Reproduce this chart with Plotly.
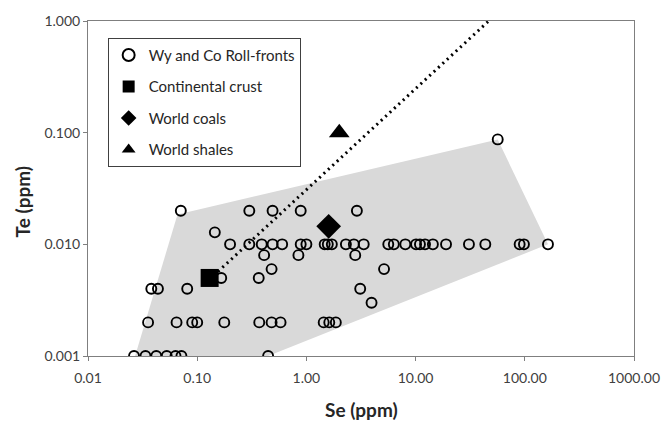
import plotly.graph_objects as go

# Wy and Co roll-front samples (Se ppm, Te ppm)
se_wyco = [0.0264, 0.0336, 0.0422, 0.0526, 0.0633, 0.0717, 0.446,
           0.0355, 0.0647, 0.090, 0.100, 0.177, 0.37, 0.48, 0.58, 1.44, 1.62, 1.86,
           3.95,
           0.038, 0.0437, 0.081, 3.11,
           0.166, 0.366,
           0.48, 5.14,
           0.41, 0.845, 2.8,
           0.20, 0.30, 0.39, 0.49, 0.60, 0.887, 1.0, 1.47, 1.57, 1.71, 2.30, 2.72,
           3.35, 5.62, 6.32, 8.05, 10.1, 10.96, 12.2, 14.4, 19.0, 30.8, 43.5, 89.7, 98.2, 163,
           0.145,
           0.0708, 0.30, 0.49, 0.887, 2.9,
           56.5]
te_wyco = [0.001] * 7 + \
          [0.002] * 11 + \
          [0.003] + \
          [0.004] * 4 + \
          [0.005] * 2 + \
          [0.006] * 2 + \
          [0.008] * 3 + \
          [0.010] * 26 + \
          [0.0128] + \
          [0.020] * 5 + \
          [0.087]

crust_se, crust_te = [0.13], [0.005]
coal_se, coal_te = [1.6], [0.0145]
shale_se, shale_te = [2.0], [0.10]

# envelope of roll-front data
env_se = [0.027, 0.066, 56.5, 163, 0.446, 0.027]
env_te = [0.001, 0.0185, 0.087, 0.010, 0.001, 0.001]

# dotted trend line
trend_se = [0.155, 46.7]
trend_te = [0.0057, 1.0]

x_tickvals = [0.01, 0.1, 1, 10, 100, 1000]
x_ticktext = ["0.01", "0.10", "1.00", "10.00", "100.00", "1000.00"]
y_tickvals = [0.001, 0.01, 0.1, 1]
y_ticktext = ["0.001", "0.010", "0.100", "1.000"]

FONT = "Lato"
fig = go.Figure()

fig.add_trace(go.Scatter(x=env_se, y=env_te, fill="toself", fillcolor="#d9d9d9",
                         mode="lines", line=dict(width=0, color="#d9d9d9"),
                         showlegend=False, hoverinfo="skip"))
fig.add_trace(go.Scatter(x=trend_se, y=trend_te, mode="lines",
                         line=dict(color="black", width=3, dash="2px,4px"),
                         showlegend=False, hoverinfo="skip"))
fig.add_trace(go.Scatter(x=se_wyco, y=te_wyco, mode="markers", name="Wy and Co Roll-fronts",
                         legendgroup="a",
                         marker=dict(symbol="circle-open", size=10, color="black",
                                     line=dict(width=1.9, color="black"))))
fig.add_trace(go.Scatter(x=crust_se, y=crust_te, mode="markers", name="Continental crust",
                         legendgroup="b",
                         marker=dict(symbol="square", size=18, color="black")))
fig.add_trace(go.Scatter(x=coal_se, y=coal_te, mode="markers", name="World coals",
                         legendgroup="c",
                         marker=dict(symbol="diamond", size=19, color="black")))
fig.add_trace(go.Scatter(x=shale_se, y=shale_te, mode="markers", name="World shales",
                         legendgroup="d",
                         marker=dict(symbol="triangle-up", size=18, color="black")))

axis_common = dict(showgrid=False, zeroline=False, showline=True, mirror=True,
                   linecolor="#7f7f7f", linewidth=1, ticks="outside", ticklen=4,
                   tickcolor="#7f7f7f",
                   tickfont=dict(family=FONT, size=14, color="#404040"))

fig.update_xaxes(type="log", range=[-2, 3], tickvals=x_tickvals, ticktext=x_ticktext,
                 ticklabelstandoff=5, **axis_common)
fig.update_yaxes(type="log", range=[-3, 0], tickvals=y_tickvals, ticktext=y_ticktext,
                 **axis_common)

fig.update_layout(
    width=672, height=425,
    margin=dict(l=88, r=27, t=19, b=69),
    paper_bgcolor="white", plot_bgcolor="white",
    font=dict(family=FONT, color="#262626"),
    legend=dict(x=0.036, y=0.95, xanchor="left", yanchor="top",
                bgcolor="white", bordercolor="#404040", borderwidth=1,
                font=dict(family=FONT, size=15, color="#262626"),
                tracegroupgap=9, itemsizing="constant", itemwidth=30),
    annotations=[
        dict(text="<b>Se (ppm)</b>", xref="paper", yref="paper", x=0.5, y=-0.16,
             xanchor="center", yanchor="middle", showarrow=False,
             font=dict(family=FONT, size=19, color="#262626")),
        dict(text="<b>Te (ppm)</b>", xref="paper", yref="paper", x=-0.12, y=0.46,
             xanchor="center", yanchor="middle", showarrow=False, textangle=-90,
             font=dict(family=FONT, size=19, color="#262626")),
    ],
)

fig.write_html("out.html")
